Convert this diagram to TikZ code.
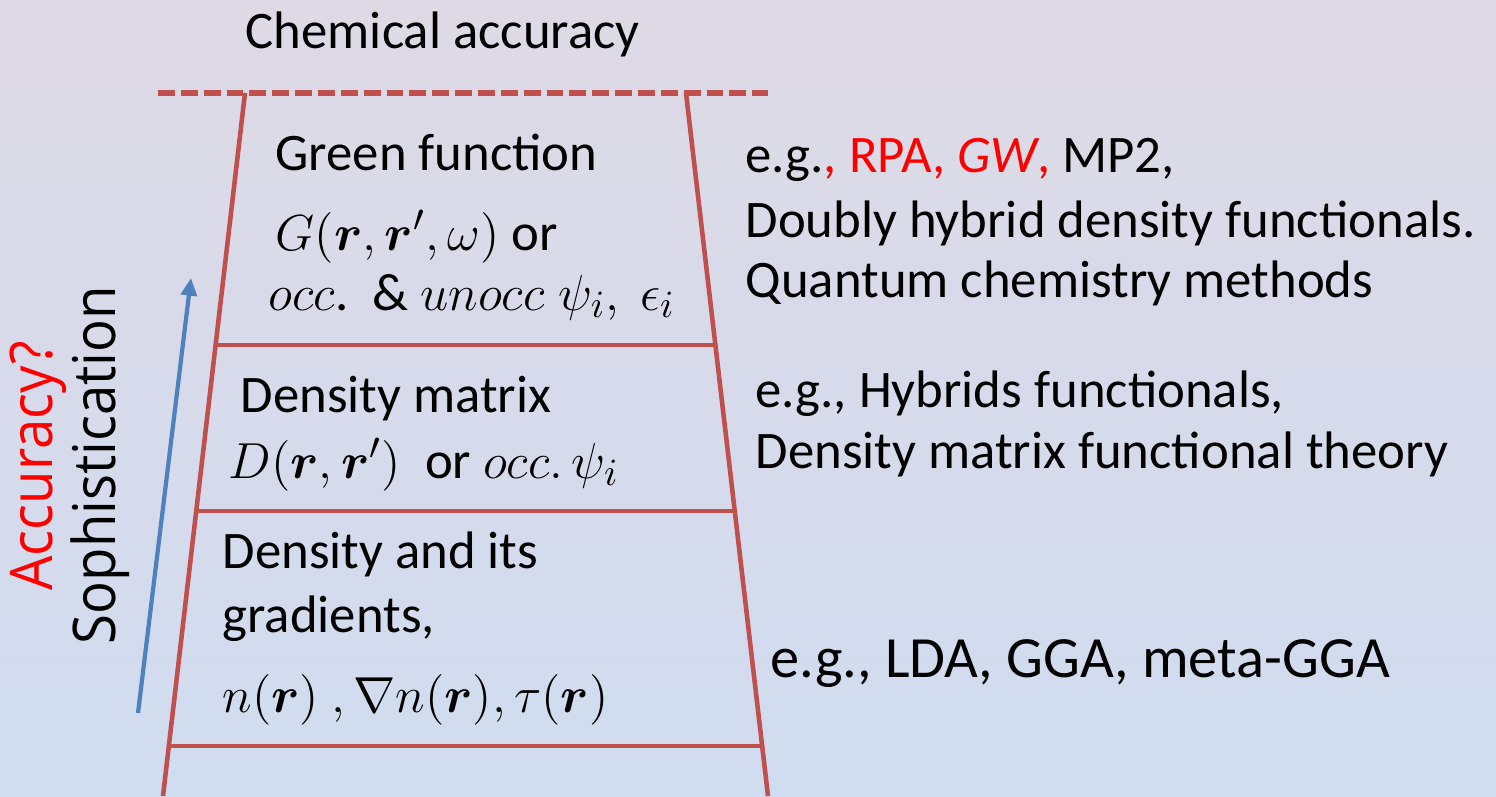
\documentclass[tikz,border=0pt]{standalone}
\usepackage{amsmath}
\usepackage{fontspec}
\setmainfont{Carlito}
\newfontfamily\sidefont{Open Sans}
\usetikzlibrary{arrows.meta}

\definecolor{ladderred}{RGB}{192,80,77}
\definecolor{upblue}{RGB}{79,129,189}
\definecolor{bgtop}{RGB}{222,217,229}
\definecolor{bgmid}{RGB}{197,210,234}
\definecolor{bgbot}{RGB}{208,220,240}

\begin{document}
\begin{tikzpicture}[
  x=0.01cm, y=-0.01cm,
  rail/.style={draw=ladderred, line width=1.3pt},
  limit/.style={draw=ladderred, line width=1.5pt, dash pattern=on 4.8pt off 1.7pt},
  lbl/.style={anchor=base west, inner sep=0pt, font=\fontsize{15}{18}\selectfont},
  side/.style={anchor=base, inner sep=0pt, rotate=90, yscale=1.08, font=\sidefont\fontsize{15.5}{18}\selectfont},
  uparrow/.style={draw=upblue, line width=1.2pt, -{Triangle[length=5pt, width=4.5pt]}}
]
  % background
  \shade[top color=bgtop, middle color=bgmid, bottom color=bgbot] (0,0) rectangle (1496,796);
  \useasboundingbox (0,0) rectangle (1496,796);

  % ladder
  \coordinate (lt) at (245,93);
  \coordinate (lb) at (163,796);
  \coordinate (rt) at (686,93);
  \coordinate (rb) at (768,796);
  \coordinate (l1) at (215.5,345);
  \coordinate (r1) at (717,345);
  \coordinate (l2) at (196,511);
  \coordinate (r2) at (735,511);
  \coordinate (l3) at (168.5,746);
  \coordinate (r3) at (762.5,746);
  \coordinate (dl) at (158,93);
  \coordinate (dr) at (768,93);

  \draw[limit] (dl) -- (dr);
  \draw[rail] (lt) -- (lb);
  \draw[rail] (rt) -- (rb);
  \draw[rail] (l1) -- (r1);
  \draw[rail] (l2) -- (r2);
  \draw[rail] (l3) -- (r3);

  \node[lbl] (chem) at (245,48) {Chemical accuracy};

  % rungs
  \node[lbl] (gf1) at (275,170) {Green function};
  \node[lbl] (gf2) at (275,250) {$G(\boldsymbol{r},\boldsymbol{r}',\omega)$ or};
  \node[lbl] (gf3) at (268,310) {$occ$.\ \ \&\ $unocc\;\psi_i,\ \epsilon_i$};
  \node[lbl] (dm1) at (240,412) {Density matrix};
  \node[lbl] (dm2) at (228,478) {$D(\boldsymbol{r},\boldsymbol{r}')$\ \ or $occ.\,\psi_i$};
  \node[lbl] (dn1) at (222,568) {Density and its};
  \node[lbl] (dn2) at (222,632) {gradients,};
  \node[lbl] (dn3) at (222,712) {$n(\boldsymbol{r})\ ,\nabla n(\boldsymbol{r}),\tau(\boldsymbol{r})$};

  % examples
  \node[lbl] (ex1) at (745,172) {e.g.\textcolor{red}{, RPA, \textit{GW},} MP2,};
  \node[lbl] (ex2) at (745,237) {Doubly hybrid density functionals.};
  \node[lbl] (ex3) at (745,297) {Quantum chemistry methods};
  \node[lbl] (hy1) at (755,407) {e.g., Hybrids functionals,};
  \node[lbl] (hy2) at (755,468) {Density matrix functional theory};
  \node[lbl, font=\fontsize{16.6}{20}\selectfont] (ld1) at (770,677) {e.g., LDA, GGA, meta-GGA};

  % axis
  \coordinate (ab) at (138,713);
  \coordinate (at) at (191,278);
  \draw[uparrow] (ab) -- (at);
  \node[side, text=red] (acc) at (53,466) {Accuracy?};
  \node[side] (soph) at (115,465) {Sophistication};
\end{tikzpicture}
\end{document}
